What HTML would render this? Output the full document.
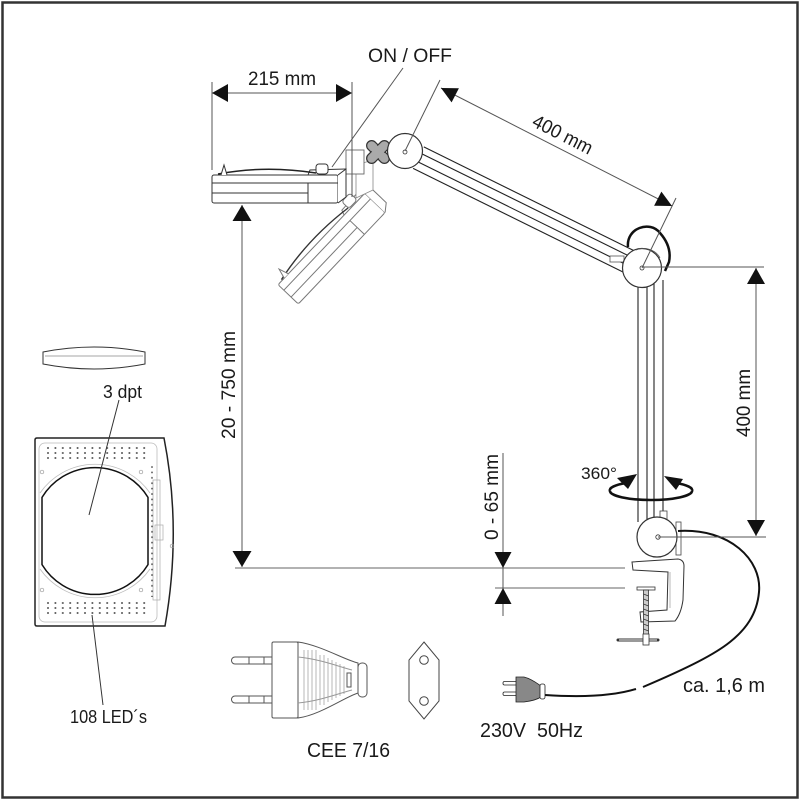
<!DOCTYPE html>
<html><head><meta charset="utf-8"><style>
html,body{margin:0;padding:0;background:#fff;}
svg{display:block;}
text{font-family:"Liberation Sans",Arial,sans-serif;fill:#1a1a1a;}
</style></head><body>
<svg width="800" height="800" viewBox="0 0 800 800" xmlns="http://www.w3.org/2000/svg">
<defs>
<pattern id="led" x="46" y="446" width="7.4" height="5" patternUnits="userSpaceOnUse"><circle cx="2" cy="2" r="1" fill="#555"/></pattern>
<pattern id="led2" x="150" y="465" width="6" height="5.4" patternUnits="userSpaceOnUse"><circle cx="2" cy="2" r="0.9" fill="#555"/></pattern>
<clipPath id="taper"><path d="M298,642 C320,645 345,660 358,663 L358,693 C345,697 320,715 298,718 Z"/></clipPath>
</defs>
<rect x="0" y="0" width="800" height="800" fill="#fff"/>
<rect x="2.5" y="2.5" width="795" height="795" fill="none" stroke="#333" stroke-width="2.5"/>

<!-- reference lines -->
<g stroke="#666" stroke-width="1" fill="none">
<line x1="235" y1="568" x2="625" y2="568"/>
<line x1="495" y1="588" x2="625" y2="588"/>
</g>

<!-- upper arm -->
<g stroke="#222" stroke-width="1.1" fill="none">
<line x1="423.8" y1="146.9" x2="633.9" y2="250.6"/>
<line x1="420.7" y1="153.2" x2="630.8" y2="256.9"/>
<line x1="416.7" y1="161.2" x2="626.8" y2="265"/>
<line x1="413.1" y1="168.4" x2="623.2" y2="272.1"/>
<!-- vertical arm -->
<line x1="638" y1="280" x2="638" y2="522"/>
<line x1="647" y1="280" x2="647" y2="522"/>
<line x1="654" y1="280" x2="654" y2="522"/>
<line x1="663" y1="280" x2="663" y2="522"/>
</g>

<!-- elbow -->
<rect x="610" y="256" width="14" height="6" fill="#fff" stroke="#555" stroke-width="0.8"/>
<circle cx="642" cy="268" r="19.5" fill="#fff" stroke="#333" stroke-width="1.2"/>
<circle cx="642" cy="268" r="2" fill="none" stroke="#333" stroke-width="0.8"/>
<path d="M628,247 C626,228 650,220 660,233 C668,242 671,252 669,262 L665,271" fill="none" stroke="#111" stroke-width="2.5"/>
<path d="M636,250 C645,246 656,250 660,258" fill="none" stroke="#555" stroke-width="0.8"/>

<!-- base joint -->
<rect x="660" y="511" width="7" height="9" fill="#fff" stroke="#444" stroke-width="0.8"/>
<rect x="676" y="522" width="5" height="33" fill="#fff" stroke="#444" stroke-width="0.8"/>
<circle cx="657" cy="537" r="20" fill="#fff" stroke="#333" stroke-width="1.2"/>
<circle cx="658" cy="537" r="2.2" fill="none" stroke="#333" stroke-width="0.8"/>

<!-- cable -->
<path d="M678,531 C730,528 762,560 759,592 C757,615 745,630 730,642 C715,654 690,667 643,687" fill="none" stroke="#111" stroke-width="2"/>
<path d="M636,689 C610,697 575,697 545,695" fill="none" stroke="#111" stroke-width="2"/>

<!-- clamp -->
<path d="M632,562 L678,559 Q684,560 684,566 L683,600 Q681,614 675,621 L641,622 L640,612 L667,610 L668,572 L633,570 Z" fill="#fff" stroke="#333" stroke-width="1"/>
<line x1="670" y1="572" x2="670" y2="608" stroke="#888" stroke-width="0.6"/>
<rect x="637" y="587" width="18" height="3" fill="#fff" stroke="#333" stroke-width="0.8"/>
<rect x="643.5" y="590" width="5" height="46" fill="#ccc" stroke="#333" stroke-width="0.8"/>
<path d="M643.5,594 L648.5,596 M643.5,599 L648.5,601 M643.5,604 L648.5,606 M643.5,609 L648.5,611 M643.5,614 L648.5,616 M643.5,619 L648.5,621 M643.5,624 L648.5,626 M643.5,629 L648.5,631" stroke="#333" stroke-width="0.7"/>
<line x1="618" y1="640" x2="658" y2="640" stroke="#333" stroke-width="3" stroke-linecap="round"/>
<line x1="619" y1="640" x2="657" y2="640" stroke="#fff" stroke-width="1"/>
<rect x="643" y="634" width="6" height="11" fill="#fff" stroke="#333" stroke-width="0.8"/>

<!-- 360 rotation -->
<g fill="none" stroke="#111" stroke-width="2.6">
<path d="M610,491 A41,9 0 0,0 692,491"/>
<path d="M610,491 A41,9 0 0,1 626,483"/>
<path d="M692,491 A41,9 0 0,0 676,483"/>
</g>
<polygon points="637,474 617,478 628,489" fill="#111"/>
<polygon points="664,476 683,479 676,490" fill="#111"/>

<!-- tilted head -->
<g transform="translate(335,245) rotate(-46.5)" stroke="#777" stroke-width="1" fill="#fff">
<rect x="-68" y="-14" width="126" height="28" rx="2"/>
<path d="M58,-14 L66,-20 L66,8 L58,14"/>
<path d="M28,-14 L30,-19 L66,-20" fill="none"/>
<line x1="-68" y1="-6" x2="58" y2="-6"/>
<line x1="-68" y1="4" x2="28" y2="4"/>
<line x1="28" y1="-6" x2="28" y2="14"/>
<path d="M-62,-15 Q-15,-24 36,-16" fill="none" stroke="#333" stroke-width="1.4"/>
<path d="M-59,-14 L-56,-24 L-53,-14"/>
<rect x="36" y="-25" width="12" height="10" rx="3"/>
</g>

<!-- bracket -->
<polygon points="356,165 373,160 373,190 356,198" fill="#fff" stroke="#888" stroke-width="0.8"/>
<rect x="346" y="150" width="18" height="24" fill="#fff" stroke="#666" stroke-width="0.9"/>

<!-- horizontal head -->
<g transform="translate(280,189)" stroke="#333" stroke-width="1" fill="#fff">
<rect x="-68" y="-14" width="126" height="28" rx="2"/>
<path d="M58,-14 L66,-20 L66,8 L58,14"/>
<path d="M28,-14 L30,-19 L66,-20" fill="none"/>
<line x1="-68" y1="-6" x2="58" y2="-6"/>
<line x1="-68" y1="4" x2="28" y2="4"/>
<line x1="28" y1="-6" x2="28" y2="14"/>
<path d="M-62,-15 Q-15,-24 36,-16" fill="none" stroke="#222" stroke-width="1.5"/>
<path d="M-59,-14 L-56,-24 L-53,-14"/>
<rect x="36" y="-25" width="12" height="10" rx="3"/>
</g>

<!-- cross knob -->
<g transform="translate(378,152) rotate(45)">
<rect x="-14" y="-5" width="28" height="10" rx="5" fill="#aaa" stroke="#333" stroke-width="1.2"/>
<rect x="-5" y="-14" width="10" height="28" rx="5" fill="#aaa" stroke="#333" stroke-width="1.2"/>
<rect x="-13" y="-4" width="26" height="8" rx="4" fill="#aaa"/>
<rect x="-4" y="-13" width="8" height="26" rx="4" fill="#aaa"/>
</g>

<!-- top joint -->
<circle cx="405" cy="151" r="17.5" fill="#fff" stroke="#333" stroke-width="1.2"/>
<circle cx="405" cy="152" r="2" fill="none" stroke="#333" stroke-width="0.8"/>

<!-- dimension lines -->
<g stroke="#555" stroke-width="1" fill="none">
<line x1="212" y1="93" x2="352" y2="93"/>
<line x1="212" y1="82" x2="212" y2="170"/>
<line x1="352" y1="82" x2="352" y2="197"/>
<line x1="403" y1="68" x2="332" y2="167"/>
<line x1="441" y1="88" x2="672" y2="206"/>
<line x1="440" y1="80" x2="405" y2="151"/>
<line x1="676" y1="198" x2="642" y2="268"/>
<line x1="756" y1="268" x2="756" y2="536"/>
<line x1="642" y1="267" x2="764" y2="267"/>
<line x1="658" y1="537" x2="766" y2="537"/>
<line x1="242" y1="205" x2="242" y2="567"/>
<line x1="503" y1="453" x2="503" y2="616"/>
</g>
<g fill="#111">
<polygon points="212,93 228,84 228,102"/>
<polygon points="352,93 336,84 336,102"/>
<polygon points="441,88 451.6,102.4 458.9,88.2"/>
<polygon points="672,206 654.1,205.8 661.4,191.6"/>
<polygon points="756,268 747,284 765,284"/>
<polygon points="756,536 747,520 765,520"/>
<polygon points="242,205 232.5,221 251.5,221"/>
<polygon points="242,567 232.5,551 251.5,551"/>
<polygon points="503,568 494.5,552 511.5,552"/>
<polygon points="503,588 494.5,604 511.5,604"/>
</g>

<!-- lens -->
<path d="M43,352 Q94,342 145,352 L145,364 Q94,374 43,364 Z" fill="#fff" stroke="#333" stroke-width="1"/>
<line x1="45" y1="356" x2="143" y2="356" stroke="#888" stroke-width="0.7"/>

<!-- LED panel -->
<path d="M37,438 L164,438 Q182,530 165,626 L37,626 Q35,626 35,624 L35,440 Q35,438 37,438 Z" fill="#fff" stroke="#222" stroke-width="1.5"/>
<rect x="39" y="443" width="118" height="179" rx="6" fill="none" stroke="#bbb" stroke-width="0.8"/>
<path d="M40,493 A67,67 0 0,1 150,493" fill="none" stroke="#bbb" stroke-width="0.8"/>
<path d="M40,569 A67,67 0 0,0 150,569" fill="none" stroke="#bbb" stroke-width="0.8"/>
<rect x="153" y="480" width="7" height="120" fill="none" stroke="#aaa" stroke-width="0.7"/>
<rect x="155" y="525" width="8" height="15" fill="none" stroke="#aaa" stroke-width="0.7"/>
<rect x="46" y="446" width="104" height="15" fill="url(#led)"/>
<rect x="46" y="601" width="104" height="15" fill="url(#led)"/>
<rect x="150" y="465" width="5" height="132" fill="url(#led2)"/>
<g fill="none" stroke="#999" stroke-width="0.7">
<circle cx="42" cy="472" r="1.8"/><circle cx="141" cy="472" r="1.8"/>
<circle cx="42" cy="590" r="1.8"/><circle cx="141" cy="590" r="1.8"/>
<circle cx="172" cy="546" r="1.8"/>
</g>
<path d="M42,497.4 A62,62 0 0,1 148,497.4 L148,564.6 A62,62 0 0,1 42,564.6 Z" fill="#fff" stroke="#111" stroke-width="1.5"/>
<line x1="119" y1="400" x2="89" y2="515" stroke="#333" stroke-width="1"/>
<line x1="92" y1="615" x2="103" y2="705" stroke="#333" stroke-width="1"/>

<!-- big plug -->
<g stroke="#555" stroke-width="1" fill="#fff">
<path d="M235,657 L272,657 L272,664 L235,664 A3.5,3.5 0 0,1 235,657 Z"/>
<path d="M235,696 L272,696 L272,703 L235,703 A3.5,3.5 0 0,1 235,696 Z"/>
<line x1="249" y1="657" x2="249" y2="664"/><line x1="264" y1="657" x2="264" y2="664"/>
<line x1="249" y1="696" x2="249" y2="703"/><line x1="264" y1="696" x2="264" y2="703"/>
<rect x="272" y="642" width="26" height="76" rx="1.5"/>
<path d="M298,642 C320,645 345,660 358,663 L358,693 C345,697 320,715 298,718 Z"/>
<g clip-path="url(#taper)" stroke="#999" stroke-width="0.7">
<line x1="304" y1="650" x2="304" y2="710"/><line x1="308" y1="650" x2="308" y2="710"/>
<line x1="312" y1="650" x2="312" y2="710"/><line x1="316" y1="650" x2="316" y2="710"/>
<line x1="320" y1="655" x2="320" y2="705"/><line x1="324" y1="655" x2="324" y2="705"/>
<line x1="328" y1="658" x2="328" y2="702"/><line x1="332" y1="660" x2="332" y2="700"/>
<line x1="336" y1="662" x2="336" y2="698"/><line x1="340" y1="664" x2="340" y2="696"/>
<line x1="344" y1="666" x2="344" y2="694"/>
</g>
<path d="M298,657 C320,659 340,667 352,670" fill="none" stroke="#999"/>
<path d="M298,703 C320,701 340,693 352,690" fill="none" stroke="#999"/>
<rect x="347" y="673" width="4" height="14"/>
<rect x="358" y="663" width="9" height="34" rx="4"/>
</g>

<!-- socket -->
<polygon points="424,642 439,660 439,701 424,719 409,701 409,660" fill="#fff" stroke="#444" stroke-width="1"/>
<circle cx="424" cy="660" r="4.3" fill="#fff" stroke="#444" stroke-width="1"/>
<circle cx="424" cy="701" r="4.3" fill="#fff" stroke="#444" stroke-width="1"/>

<!-- small plug -->
<g stroke="#222" stroke-width="0.8">
<rect x="503" y="681.5" width="14" height="3.5" rx="1.5" fill="#fff"/>
<rect x="503" y="692" width="14" height="3.5" rx="1.5" fill="#fff"/>
<path d="M516,677 L524,677 C532,679 538,684 541,686 L541,697 C538,699 532,701 524,702 L516,702 Z" fill="#888"/>
<rect x="540" y="684" width="5" height="15" rx="2" fill="#fff"/>
</g>

<!-- texts -->
<text x="410" y="62" font-size="19" text-anchor="middle" textLength="84" lengthAdjust="spacingAndGlyphs">ON / OFF</text>
<text x="282" y="85" font-size="19" text-anchor="middle" textLength="68" lengthAdjust="spacingAndGlyphs">215 mm</text>
<text transform="translate(563,134) rotate(27)" x="0" y="7" font-size="19" text-anchor="middle" textLength="65" lengthAdjust="spacingAndGlyphs">400 mm</text>
<text transform="translate(235,385) rotate(-90)" x="0" y="0" font-size="19" text-anchor="middle" textLength="108" lengthAdjust="spacingAndGlyphs">20 - 750 mm</text>
<text transform="translate(498,497) rotate(-90)" x="0" y="0" font-size="19" text-anchor="middle" textLength="86" lengthAdjust="spacingAndGlyphs">0 - 65 mm</text>
<text transform="translate(750,403) rotate(-90)" x="0" y="0" font-size="19" text-anchor="middle" textLength="68" lengthAdjust="spacingAndGlyphs">400 mm</text>
<text x="581" y="479" font-size="17" textLength="36" lengthAdjust="spacingAndGlyphs">360°</text>
<text x="103" y="398" font-size="18" textLength="39" lengthAdjust="spacingAndGlyphs">3 dpt</text>
<text x="70" y="723" font-size="18" textLength="77" lengthAdjust="spacingAndGlyphs">108 LED´s</text>
<text x="307" y="757" font-size="20" textLength="83" lengthAdjust="spacingAndGlyphs">CEE 7/16</text>
<text x="480" y="737" font-size="20" textLength="103" lengthAdjust="spacingAndGlyphs">230V&#160; 50Hz</text>
<text x="683" y="692" font-size="20" textLength="82" lengthAdjust="spacingAndGlyphs">ca. 1,6 m</text>
</svg>
</body></html>
